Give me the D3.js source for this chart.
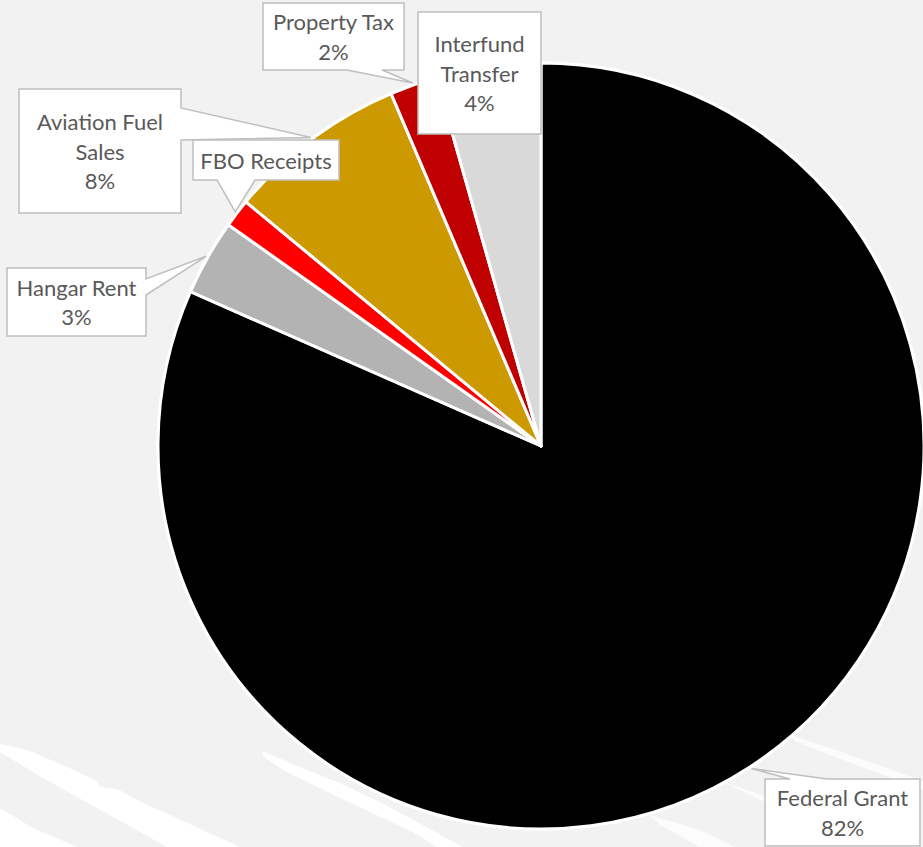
<!DOCTYPE html>
<html>
<head>
<meta charset="utf-8">
<script src="https://cdn.jsdelivr.net/npm/d3@7/dist/d3.min.js"></script>
<style>
  html, body { margin: 0; padding: 0; background: #f2f2f2; overflow: hidden; }
  svg { display: block; }
  text { font-family: Lato, "Open Sans", sans-serif; fill: #595959; }
</style>
</head>
<body>
<svg id="chart" width="923" height="847"></svg>
<script>
// Revenue sources, in slice order (clockwise from 12 o'clock)
const categories = ["Federal Grant", "Hangar Rent", "FBO Receipts", "Aviation Fuel Sales", "Property Tax", "Interfund Transfer"];
const shares = [81.6, 3.2, 1.2, 7.6, 2.0, 4.4];
const sliceColors = ["#000000", "#b3b3b3", "#ff0000", "#cc9a00", "#c00000", "#d9d9d9"];
const labelLines = [["Federal Grant"], ["Hangar Rent"], ["FBO Receipts"], ["Aviation Fuel", "Sales"], ["Property Tax"], ["Interfund", "Transfer"]];
const showPercent = [true, true, false, true, true, true];

// Callout box placement: box edges, side carrying the pointer and its base span
const calloutLayout = [
  { x0: 765, y0: 779, x1: 920, y1: 846, side: "top",    base: [790, 827] },
  { x0: 7,   y0: 268, x1: 146, y1: 336, side: "right",  base: [279, 295] },
  { x0: 193, y0: 140, x1: 339, y1: 180, side: "bottom", base: [217, 255] },
  { x0: 19,  y0: 89,  x1: 181, y1: 213, side: "right",  base: [108, 140] },
  { x0: 263, y0: 3,   x1: 404, y1: 70,  side: "bottom", base: [347, 382] },
  { x0: 418, y0: 12,  x1: 541, y1: 134, side: "none",   base: null }
];

const width = 923, height = 847;
const cx = 541, cy = 446, radius = 383;
const lineHeight = 29.5;

const svg = d3.select("#chart");

// Background
svg.append("rect").attr("width", width).attr("height", height).attr("fill", "#f2f2f2");

// Light brush strokes in the lower part of the backdrop
const brush = svg.append("g").attr("fill", "#ffffff");
const strokeShapes = [
  "M0,744 L10,746 L30,751 L67,767 L97,781 L100,787 L117,789 L150,806 L240,847 L167,847 L97,808 L77,797 L43,778 L0,752 Z",
  "M0,808 L33,828 L77,847 L0,847 Z",
  "M167,826 L190,835 L213,847 L196,847 Z",
  "M263,751 L297,766 L337,782 L380,802 L463,847 L437,847 L413,832 L340,798 L283,770 L263,756 Z",
  "M790,735 L833,749 L923,781 L923,790 L833,756 L795,741 Z",
  "M722,781 L767,797 L800,812 L760,800 Z",
  "M650,815 L700,830 L735,847 L700,847 L660,825 Z"
];
brush.selectAll("path").data(strokeShapes).join("path")
  .attr("d", d => d)
  .attr("opacity", (d, i) => i >= 4 ? 0.75 : 1);

// Pie
const pie = d3.pie().sort(null).value(d => d.value).startAngle(0).endAngle(2 * Math.PI);
const rows = categories.map((c, i) => ({ name: c, value: shares[i], color: sliceColors[i], i }));
const arcs = pie(rows);
const arc = d3.arc().innerRadius(0).outerRadius(radius);
const tipArc = d3.arc().innerRadius(radius + 2).outerRadius(radius + 2);

const g = svg.append("g").attr("transform", `translate(${cx},${cy})`);
g.append("circle").attr("r", radius + 1.5).attr("fill", "#ffffff");
g.selectAll("path.slice").data(arcs).join("path")
  .attr("class", "slice")
  .attr("d", arc)
  .attr("fill", d => d.data.color)
  .attr("stroke", "#ffffff")
  .attr("stroke-width", 3)
  .attr("stroke-linejoin", "round");

// Callout outline with a pointer running to the slice
function calloutPath(b, tip) {
  const p = d3.path();
  p.moveTo(b.x0, b.y0);
  if (b.side === "top") { p.lineTo(b.base[0], b.y0); p.lineTo(tip[0], tip[1]); p.lineTo(b.base[1], b.y0); }
  p.lineTo(b.x1, b.y0);
  if (b.side === "right") { p.lineTo(b.x1, b.base[0]); p.lineTo(tip[0], tip[1]); p.lineTo(b.x1, b.base[1]); }
  p.lineTo(b.x1, b.y1);
  if (b.side === "bottom") { p.lineTo(b.base[1], b.y1); p.lineTo(tip[0], tip[1]); p.lineTo(b.base[0], b.y1); }
  p.lineTo(b.x0, b.y1);
  p.closePath();
  return p.toString();
}

const labels = svg.append("g");
arcs.forEach((d, i) => {
  const b = calloutLayout[i];
  const c = tipArc.centroid(d);
  const tip = [cx + c[0], cy + c[1]];
  const grp = labels.append("g");
  grp.append("path")
    .attr("d", calloutPath(b, tip))
    .attr("fill", "#ffffff")
    .attr("stroke", "#bfbfbf")
    .attr("stroke-width", 1.5)
    .attr("stroke-linejoin", "miter");
  const lines = labelLines[i].slice();
  if (showPercent[i]) lines.push(Math.round(d.data.value) + "%");
  const midX = (b.x0 + b.x1) / 2;
  const midY = (b.y0 + b.y1) / 2;
  const firstY = midY - (lines.length - 1) * lineHeight / 2;
  const t = grp.append("text")
    .attr("text-anchor", "middle")
    .attr("font-size", 22);
  lines.forEach((ln, k) => {
    t.append("tspan")
      .attr("x", midX)
      .attr("y", firstY + k * lineHeight + 1)
      .attr("dy", "0.35em")
      .text(ln);
  });
});
</script>
</body>
</html>
